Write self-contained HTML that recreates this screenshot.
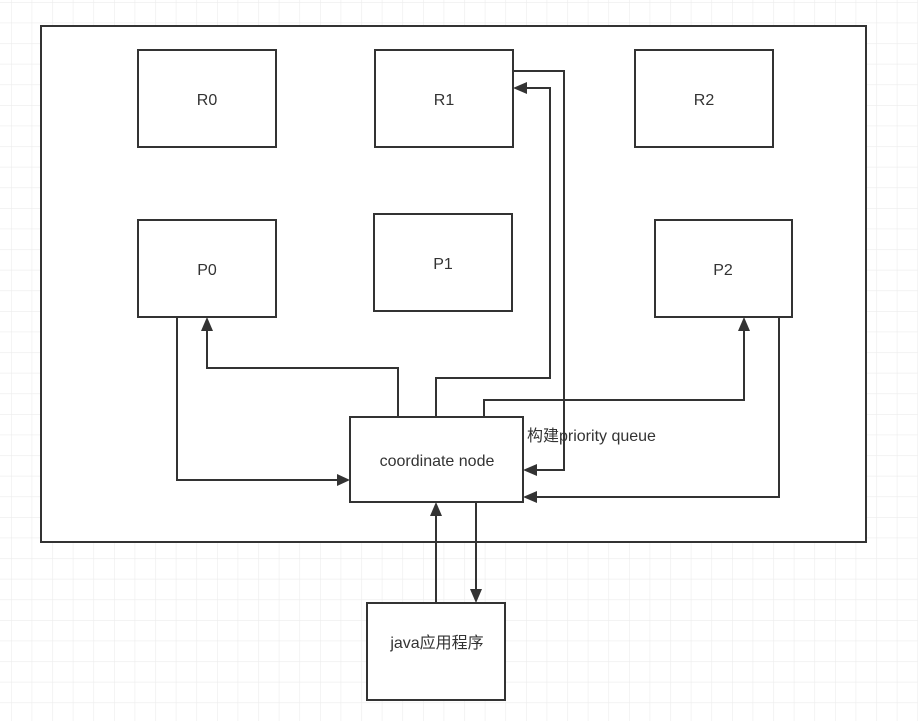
<!DOCTYPE html>
<html><head><meta charset="utf-8"><style>
html,body{margin:0;padding:0;background:#fff}
svg{display:block}
text{font-family:"Liberation Sans","Noto Sans CJK SC",sans-serif;fill:#333;font-size:16px}
</style></head><body>
<svg width="918" height="721" viewBox="0 0 918 721" xmlns="http://www.w3.org/2000/svg">
<defs>
<pattern id="g" x="11" y="2" width="20.6" height="20.6" patternUnits="userSpaceOnUse">
<path d="M0 0H20.6M0 0V20.6" stroke="#ececec" stroke-width="1.2" fill="none"/>
</pattern>
<marker id="a" viewBox="0 0 10 10" refX="10" refY="5" markerWidth="5" markerHeight="5" orient="auto" markerUnits="userSpaceOnUse">
</marker>
</defs>
<rect width="918" height="721" fill="url(#g)"/>
<rect x="41" y="26" width="825" height="516" fill="#fff" stroke="#333" stroke-width="2"/>
<g fill="#fff" stroke="#333" stroke-width="2">
<rect x="138" y="50" width="138" height="97"/>
<rect x="375" y="50" width="138" height="97"/>
<rect x="635" y="50" width="138" height="97"/>
<rect x="138" y="220" width="138" height="97"/>
<rect x="374" y="214" width="138" height="97"/>
<rect x="655" y="220" width="137" height="97"/>
<rect x="350" y="417" width="173" height="85"/>
<rect x="367" y="603" width="138" height="97"/>
</g>
<g fill="none" stroke="#333" stroke-width="2">
<polyline points="177,317 177,480 338,480"/>
<polyline points="398,417 398,368 207,368 207,329"/>
<polyline points="436,417 436,378 550,378 550,88 525,88"/>
<polyline points="513,71 564,71 564,470 535,470"/>
<polyline points="484,417 484,400 744,400 744,329"/>
<polyline points="779,317 779,497 535,497"/>
<polyline points="436,603 436,514"/>
<polyline points="476,502 476,591"/>
</g>
<g fill="#333">
<polygon points="350,480 337,474 337,486"/>
<polygon points="207,317 201,331 213,331"/>
<polygon points="513,88 527,82 527,94"/>
<polygon points="523,470 537,464 537,476"/>
<polygon points="744,317 738,331 750,331"/>
<polygon points="523,497 537,491 537,503"/>
<polygon points="436,502 430,516 442,516"/>
<polygon points="476,603 470,589 482,589"/>
</g>
<g text-anchor="middle">
<text x="207" y="105">R0</text>
<text x="444" y="105">R1</text>
<text x="704" y="105">R2</text>
<text x="207" y="275">P0</text>
<text x="443" y="269">P1</text>
<text x="723" y="275">P2</text>
<text x="437" y="466">coordinate node</text>
<text x="437" y="648">java应用程序</text>
</g>
<text x="527" y="441">构建priority queue</text>
</svg>
</body></html>
